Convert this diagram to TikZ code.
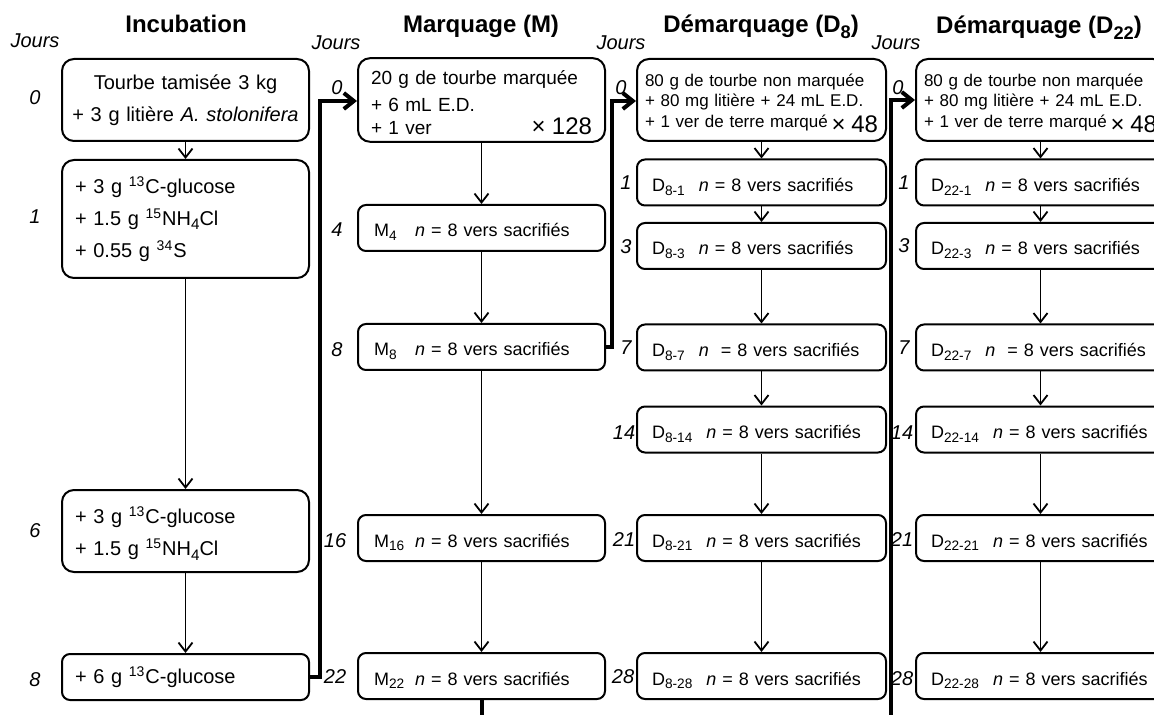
\documentclass[tikz,border=0pt]{standalone}
\usepackage{fontspec}
\setmainfont{Liberation Sans}
\usetikzlibrary{shapes, positioning, arrows.meta}

% indice un peu plus grand que \textsubscript
\newcommand{\ind}[1]{\raisebox{-0.22em}{\fontsize{0.76em}{0pt}\selectfont #1}}

\begin{document}
\begin{tikzpicture}[x=0.5pt, y=-0.5pt,
        titre/.style={font=\fontsize{12}{14}\selectfont\bfseries, anchor=base},
        jour/.style={font=\fontsize{10}{12}\selectfont\itshape},
        boite/.style={draw, line width=1pt, rounded corners=6pt, align=left, inner xsep=6.5pt, text width=110.5pt, font=\fontsize{10}{16}\selectfont},
        rang/.style={draw, line width=1pt, rounded corners=4pt, align=left, inner xsep=8pt, text width=107.5pt, minimum height=23pt, text height=9pt, text depth=0pt, font=\fontsize{9}{11}\selectfont},
        rangD/.style={rang, inner xsep=7.5pt, text width=109.5pt},
        fleche/.style={line width=0.9pt, -{Straight Barb[length=4.5pt, width=7pt]}},
        transfert/.style={line width=2pt, -{Straight Barb[length=5pt, width=8pt]}}]
        \useasboundingbox (0, 0) rectangle (1154, 715);

        % titres
        \node[titre] at (186, 33) (tInc) {Incubation};
        \node[titre] at (481, 33) (tMarq) {Marquage (M)};
        \node[titre] at (761, 33) (tDem8) {Démarquage (D\ind{8})};
        \node[titre] at (1039, 34) (tDem22) {Démarquage (D\ind{22})};
        \node[jour] at (35, 41) (jInc) {Jours};
        \node[jour] at (336, 43) (jMarq) {Jours};
        \node[jour] at (621, 43) (jDem8) {Jours};
        \node[jour] at (896, 43) (jDem22) {Jours};

        % incubation
        \node[boite, minimum height=41pt, inner xsep=4pt, text width=115.5pt, align=center] at (185.5, 100) (inc0)
            {Tourbe tamisée 3 kg\\+ 3 g litière \textit{A. stolonifera}};
        \node[boite, minimum height=59pt] at (185.5, 219) (inc1)
            {+ 3 g \textsuperscript{13}C-glucose\\+ 1.5 g \textsuperscript{15}NH\ind{4}Cl\\+ 0.55 g \textsuperscript{34}S};
        \node[boite, minimum height=41pt] at (185.5, 531) (inc6)
            {\rule{0pt}{11pt}+ 3 g \textsuperscript{13}C-glucose\\+ 1.5 g \textsuperscript{15}NH\ind{4}Cl};
        \node[boite, minimum height=23pt, rounded corners=4pt] at (185.5, 677) (inc8)
            {+ 6 g \textsuperscript{13}C-glucose};
        \node[jour] at (35, 98) (jinc0) {0};
        \node[jour] at (35, 217) (jinc1) {1};
        \node[jour] at (35, 531) (jinc6) {6};
        \node[jour] at (35, 680) (jinc8) {8};

        % marquage
        \node[boite, minimum height=41pt, font=\fontsize{9.5}{11.5}\selectfont] at (481.5, 100) (marq0)
            {\rule{0pt}{10pt}20 g de tourbe marquée\\[2pt]+ 6 mL E.D.\\+ 1 ver\hskip 0pt plus 1filll{\fontsize{12}{12}\selectfont × 128}};
        \node[rang] at (481.5, 228) (marq4) {\makebox[20.5pt][l]{M\ind{4}}\textit{n} = 8 vers sacrifiés};
        \node[rang] at (481.5, 347) (marq8) {\makebox[20.5pt][l]{M\ind{8}}\textit{n} = 8 vers sacrifiés};
        \node[rang] at (481.5, 538) (marq16) {\makebox[20.5pt][l]{M\ind{16}}\textit{n} = 8 vers sacrifiés};
        \node[rang] at (481.5, 676) (marq22) {\makebox[20.5pt][l]{M\ind{22}}\textit{n} = 8 vers sacrifiés};
        \node[jour] at (337, 88) (jmarq0) {0};
        \node[jour] at (337, 230) (jmarq4) {4};
        \node[jour] at (337, 350) (jmarq8) {8};
        \node[jour] at (335, 541) (jmarq16) {16};
        \node[jour] at (335, 677) (jmarq22) {22};

        % demarquage D8
        \node[boite, minimum height=41pt, inner xsep=4pt, text width=116.5pt, font=\fontsize{8.5}{10}\selectfont] at (761.5, 100) (dem8j0)
            {\rule{0pt}{10pt}80 g de tourbe non marquée\\+ 80 mg litière + 24 mL E.D.\\[0.5pt]+ 1 ver de terre marqué\hskip 0pt plus 1filll\raisebox{-2.5pt}{\fontsize{12}{12}\selectfont × 48}};
        \node[rangD] at (761.5, 182.5) (dem8j1) {D\ind{8-1}\hspace{7pt}\textit{n} = 8 vers sacrifiés};
        \node[rangD] at (761.5, 246) (dem8j3) {D\ind{8-3}\hspace{7pt}\textit{n} = 8 vers sacrifiés};
        \node[rangD] at (761.5, 347.5) (dem8j7) {D\ind{8-7}\hspace{7pt}\textit{n}\ \ = 8 vers sacrifiés};
        \node[rangD] at (761.5, 429.5) (dem8j14) {D\ind{8-14}\hspace{7pt}\textit{n} = 8 vers sacrifiés};
        \node[rangD] at (761.5, 538) (dem8j21) {D\ind{8-21}\hspace{7pt}\textit{n} = 8 vers sacrifiés};
        \node[rangD] at (761.5, 676) (dem8j28) {D\ind{8-28}\hspace{7pt}\textit{n} = 8 vers sacrifiés};
        \node[jour] at (621, 88) (jdem8j0) {0};
        \node[jour] at (626, 183) (jdem8j1) {1};
        \node[jour] at (626, 247) (jdem8j3) {3};
        \node[jour] at (626, 348) (jdem8j7) {7};
        \node[jour] at (624, 433) (jdem8j14) {14};
        \node[jour] at (624, 540) (jdem8j21) {21};
        \node[jour] at (623, 677) (jdem8j28) {28};

        % demarquage D22
        \node[boite, minimum height=41pt, inner xsep=4pt, text width=116.5pt, font=\fontsize{8.5}{10}\selectfont] at (1040.5, 100) (dem22j0)
            {\rule{0pt}{10pt}80 g de tourbe non marquée\\+ 80 mg litière + 24 mL E.D.\\[0.5pt]+ 1 ver de terre marqué\hskip 0pt plus 1filll\raisebox{-2.5pt}{\fontsize{12}{12}\selectfont × 48}};
        \node[rangD] at (1040.5, 182.5) (dem22j1) {D\ind{22-1}\hspace{7pt}\textit{n} = 8 vers sacrifiés};
        \node[rangD] at (1040.5, 246) (dem22j3) {D\ind{22-3}\hspace{7pt}\textit{n} = 8 vers sacrifiés};
        \node[rangD] at (1040.5, 347.5) (dem22j7) {D\ind{22-7}\hspace{7pt}\textit{n}\ \ = 8 vers sacrifiés};
        \node[rangD] at (1040.5, 429.5) (dem22j14) {D\ind{22-14}\hspace{7pt}\textit{n} = 8 vers sacrifiés};
        \node[rangD] at (1040.5, 538) (dem22j21) {D\ind{22-21}\hspace{7pt}\textit{n} = 8 vers sacrifiés};
        \node[rangD] at (1040.5, 676) (dem22j28) {D\ind{22-28}\hspace{7pt}\textit{n} = 8 vers sacrifiés};
        \node[jour] at (898, 88) (jdem22j0) {0};
        \node[jour] at (904, 183) (jdem22j1) {1};
        \node[jour] at (904, 246) (jdem22j3) {3};
        \node[jour] at (904, 348) (jdem22j7) {7};
        \node[jour] at (902, 433) (jdem22j14) {14};
        \node[jour] at (902, 540) (jdem22j21) {21};
        \node[jour] at (902, 679) (jdem22j28) {28};

        % fleches
        \draw[fleche] (inc0) edge (inc1)
            (inc1) edge (inc6)
            (inc6) edge (inc8);
        \draw[fleche] (marq0) edge (marq4)
            (marq4) edge (marq8)
            (marq8) edge (marq16)
            (marq16) edge (marq22);
        \draw[fleche] (dem8j0) edge (dem8j1)
            (dem8j1) edge (dem8j3)
            (dem8j3) edge (dem8j7)
            (dem8j7) edge (dem8j14)
            (dem8j14) edge (dem8j21)
            (dem8j21) edge (dem8j28);
        \draw[fleche] (dem22j0) edge (dem22j1)
            (dem22j1) edge (dem22j3)
            (dem22j3) edge (dem22j7)
            (dem22j7) edge (dem22j14)
            (dem22j14) edge (dem22j21)
            (dem22j21) edge (dem22j28);

        % transferts
        \coordinate (haut1) at (320, 101);
        \coordinate (haut2) at (612, 101);
        \coordinate (bas) at (891, 740);
        \draw[transfert] (inc8.east) -| (haut1) -- (marq0.west |- haut1);
        \draw[transfert] (marq8.east) -| (haut2) -- (dem8j0.west |- haut2);
        \draw[transfert] (marq22.south) |- (bas) |- (dem22j0.west);
    \end{tikzpicture}
\end{document}
